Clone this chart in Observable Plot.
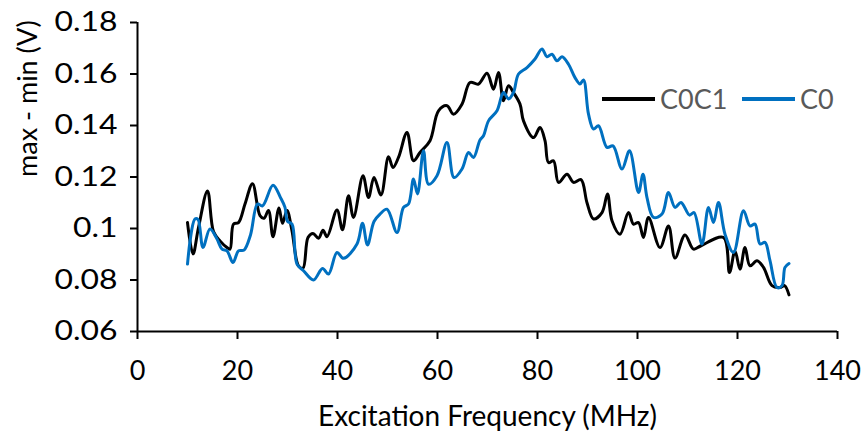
<!DOCTYPE html>
<html><head><meta charset="utf-8">
<script src="https://cdn.jsdelivr.net/npm/d3@7"></script>
<script src="https://cdn.jsdelivr.net/npm/@observablehq/plot@0.6"></script>
<style>
body{margin:0;background:#fff;}
#wrap{position:relative;width:865px;height:437px;font-family:Lato,sans-serif;}
.lg{position:absolute;top:82px;display:flex;align-items:center;font-size:27px;color:#595959;}
.sw{display:inline-block;width:53px;height:4px;margin-right:5px;}
</style></head><body><div id="wrap"></div>
<script>
const seriesNames = ["C0C1", "C0"];
const seriesColors = ["#000000", "#0070C0"];
const xTicks = [0, 20, 40, 60, 80, 100, 120, 140];
const yTicks = [0.06, 0.08, 0.1, 0.12, 0.14, 0.16, 0.18];
const xTitle = "Excitation Frequency (MHz)";
const yTitle = "max - min (V)";

const c0c1Freq = [10, 11.1, 12.2, 14, 15.2, 16.5, 17.9, 18.5, 19.2, 20.2, 21.5, 23, 24.5, 25.3, 26.2, 27.1, 28.3, 29, 29.9, 30.9, 32.2, 33.1, 34.1, 35.1, 36.2, 37.1, 37.9, 39.9, 41, 42.2, 43.2, 45.1, 46.2, 47.3, 48.7, 50.2, 51.1, 52.2, 53.9, 55.2, 56.5, 58.5, 60.2, 61.9, 63.2, 64.9, 66.5, 68.2, 69.9, 71.2, 72.2, 73.2, 74.2, 75.2, 76.5, 77.2, 79.2, 80.5, 81.5, 82.2, 83.2, 84.2, 85.9, 87.2, 88.7, 89.9, 91.2, 92.9, 94, 94.9, 96.5, 98.2, 99.2, 100.2, 101.2, 102.2, 104.5, 106.2, 107.5, 109.5, 111.2, 112.7, 117.2, 118.4, 119.5, 120.5, 121.5, 122.5, 123.9, 125.2, 126.9, 128.5, 129.4, 130.3];
const c0c1Val = [0.1023, 0.0901, 0.1004, 0.1146, 0.0988, 0.0952, 0.0926, 0.092, 0.1017, 0.1023, 0.1095, 0.1174, 0.105, 0.104, 0.107, 0.0968, 0.108, 0.102, 0.107, 0.0991, 0.0855, 0.0846, 0.0965, 0.0981, 0.0962, 0.0993, 0.0968, 0.1072, 0.0995, 0.1127, 0.1043, 0.1205, 0.112, 0.1198, 0.113, 0.1279, 0.1237, 0.1276, 0.1373, 0.1263, 0.1295, 0.1341, 0.1457, 0.1477, 0.1444, 0.1483, 0.1567, 0.1561, 0.1603, 0.1541, 0.1606, 0.1496, 0.1554, 0.1528, 0.1483, 0.1418, 0.1353, 0.1392, 0.1341, 0.1256, 0.1263, 0.1179, 0.1211, 0.1179, 0.119, 0.110, 0.1037, 0.1062, 0.1134, 0.103, 0.0978, 0.1062, 0.1017, 0.1023, 0.0965, 0.1043, 0.0926, 0.101, 0.0885, 0.0975, 0.092, 0.0933, 0.0965, 0.0829, 0.0913, 0.0842, 0.0926, 0.0855, 0.0875, 0.0849, 0.0778, 0.0771, 0.0778, 0.0742];

const c0Freq = [10, 11.5, 12.1, 13.1, 14.5, 15.9, 16.9, 17.9, 19.1, 20.2, 21.3, 22.6, 24, 25, 27.1, 28.6, 29.5, 30, 30.9, 31.9, 33.2, 35.2, 37, 38.2, 39.9, 41.2, 43.9, 45, 46, 47.3, 48.5, 49.9, 51.9, 53.2, 54.2, 55.2, 56, 57.2, 58.2, 59.9, 61.9, 63.3, 64.9, 66.2, 67.2, 68.5, 69.2, 70.2, 71.9, 73.2, 74.2, 75.2, 76.2, 77.9, 79.5, 80.9, 81.9, 82.9, 83.9, 84.9, 86.2, 87.5, 88.5, 89.2, 90.2, 91.2, 92.2, 93.9, 95.1, 96.9, 98.4, 100.2, 101.1, 101.9, 103.2, 104.9, 106.2, 107.5, 108.7, 110.4, 111.3, 112.9, 114.2, 115.2, 116.2, 117.5, 119.2, 121.2, 122.5, 123.5, 124.5, 125.5, 126.5, 127.9, 128.9, 129.5, 130.3];
const c0Val = [0.0862, 0.1037, 0.1035, 0.0926, 0.0998, 0.0959, 0.092, 0.0913, 0.0868, 0.0913, 0.0916, 0.0975, 0.1095, 0.1088, 0.1168, 0.112, 0.1082, 0.1028, 0.1017, 0.0862, 0.0836, 0.08, 0.0845, 0.0823, 0.0907, 0.0884, 0.094, 0.102, 0.0936, 0.1027, 0.1056, 0.1075, 0.0984, 0.1082, 0.1095, 0.1192, 0.1134, 0.1302, 0.1172, 0.1205, 0.1334, 0.1198, 0.1231, 0.1295, 0.1276, 0.1344, 0.136, 0.1418, 0.1457, 0.1528, 0.1503, 0.1528, 0.16, 0.1625, 0.1658, 0.1697, 0.1667, 0.1677, 0.1651, 0.1667, 0.1638, 0.1586, 0.1561, 0.1577, 0.1444, 0.1386, 0.1399, 0.1315, 0.1321, 0.1231, 0.1302, 0.114, 0.1211, 0.112, 0.1043, 0.1056, 0.114, 0.1082, 0.1101, 0.1052, 0.1062, 0.094, 0.1082, 0.1023, 0.1101, 0.0978, 0.0907, 0.1069, 0.101, 0.1017, 0.094, 0.0946, 0.0875, 0.0771, 0.0778, 0.0849, 0.0864];

const rows = [
  ...c0c1Freq.map((f, i) => ({series: seriesNames[0], f, v: c0c1Val[i]})),
  ...c0Freq.map((f, i) => ({series: seriesNames[1], f, v: c0Val[i]}))
];

const chart = Plot.plot({
  width: 865, height: 437,
  marginLeft: 137, marginRight: 28, marginTop: 22, marginBottom: 106,
  style: {fontFamily: "Lato, sans-serif", fontSize: "27px", color: "#000", background: "#fff"},
  x: {domain: [xTicks[0], xTicks[xTicks.length - 1]]},
  y: {domain: [yTicks[0], yTicks[yTicks.length - 1]]},
  color: {domain: seriesNames, range: seriesColors},
  marks: [
    Plot.axisX({ticks: xTicks, tickSize: 8, tickPadding: 21, strokeWidth: 2, label: null, tickFormat: d => String(d), fontSize: 27}),
    Plot.axisY({ticks: yTicks, tickSize: 7, tickPadding: 13, strokeWidth: 2, label: null, tickFormat: d => String(+d.toFixed(2)), fontSize: 27}),
    Plot.ruleX([xTicks[0]], {stroke: "#000", strokeWidth: 2}),
    Plot.ruleY([yTicks[0]], {stroke: "#000", strokeWidth: 2}),
    Plot.line(rows, {x: "f", y: "v", z: "series", stroke: "series", strokeWidth: 3, curve: "catmull-rom"}),
    Plot.text([xTitle], {frameAnchor: "bottom", dy: 86, lineAnchor: "middle", fontSize: 28, fill: "#000", text: d => d}),
    Plot.text([yTitle], {frameAnchor: "left", dx: -109, rotate: -90, lineAnchor: "middle", fontSize: 27, fill: "#000", text: d => d})
  ]
});
const wrap = document.getElementById("wrap");
wrap.appendChild(chart);
// widen the y tick labels slightly, as in the reference
chart.querySelectorAll('g[aria-label="y-axis tick label"] text').forEach(t => {
  const len = t.getComputedTextLength();
  t.setAttribute("textLength", (len * 1.18).toFixed(1));
  t.setAttribute("lengthAdjust", "spacingAndGlyphs");
});
const lefts = [602, 742];
seriesNames.forEach((name, i) => {
  const d = document.createElement("div");
  d.className = "lg";
  d.style.left = lefts[i] + "px";
  d.innerHTML = `<span class="sw" style="background:${seriesColors[i]}"></span><span>${name}</span>`;
  wrap.appendChild(d);
});
</script></body></html>
